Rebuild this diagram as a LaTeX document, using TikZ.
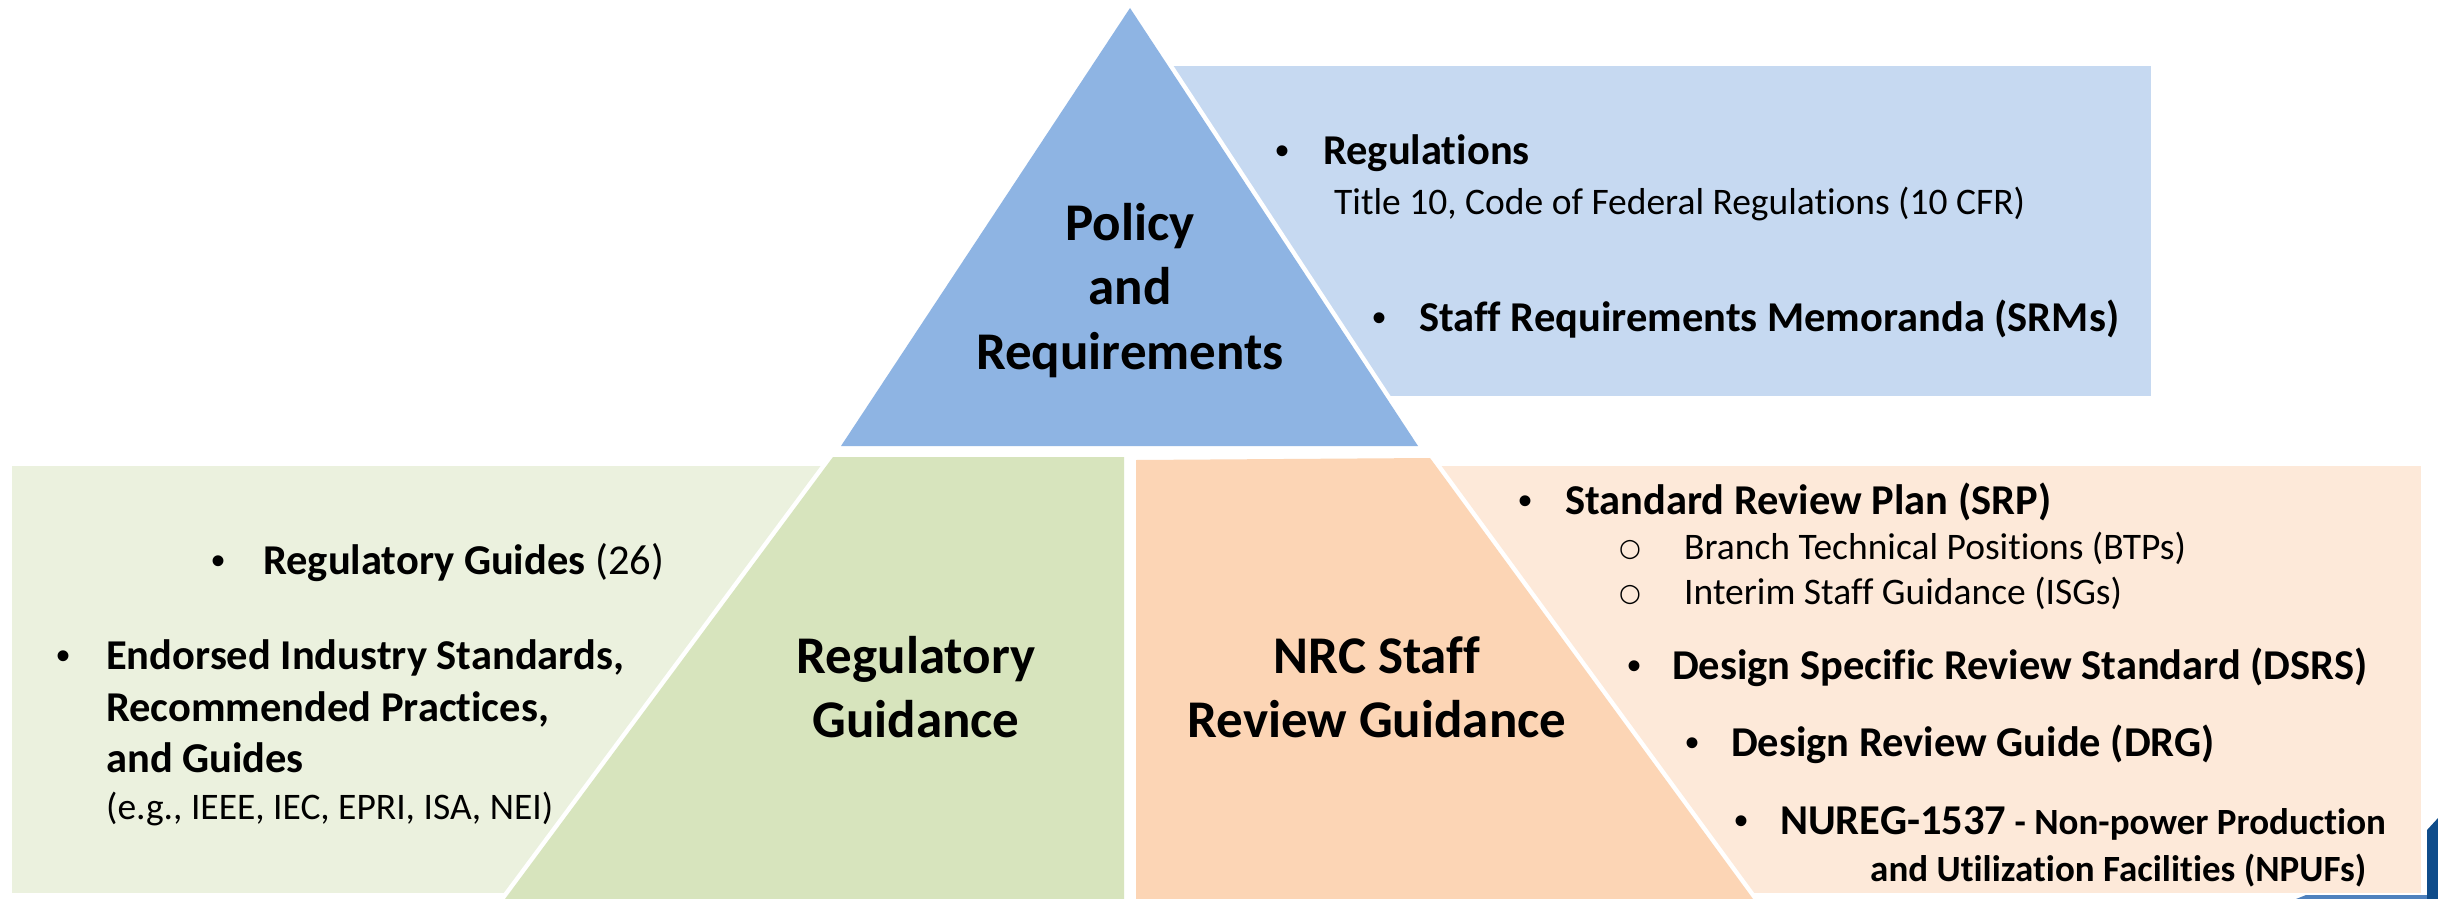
\documentclass[tikz,border=0pt]{standalone}
\usepackage{fontspec}
\setmainfont{Carlito}[Ligatures=NoCommon]
\newfontfamily\bulletfont{Liberation Sans}
\newfontfamily\subbulletfont{DejaVu Sans}
\definecolor{triblue}{HTML}{8EB4E3}
\definecolor{boxblue}{HTML}{C6D9F1}
\definecolor{boxgreen}{HTML}{EBF1DE}
\definecolor{trigreen}{HTML}{D7E4BD}
\definecolor{triorange}{HTML}{FCD5B5}
\definecolor{boxorange}{HTML}{FDE9D9}
\definecolor{navy}{HTML}{0F4C8A}
\definecolor{edgeblue}{HTML}{4F81BD}
\tikzset{
  title/.style={font=\fontsize{53}{64}\selectfont\bfseries, anchor=base, inner sep=0pt},
  item/.style={font=\fontsize{42.5}{52}\selectfont\bfseries, anchor=base west, inner sep=0pt},
  subitem/.style={font=\fontsize{37.5}{45}\selectfont, anchor=base west, inner sep=0pt},
  smallbold/.style={font=\fontsize{37}{45}\selectfont\bfseries, anchor=base west, inner sep=0pt},
  bul/.style={font=\fontsize{40}{48}\selectfont\bulletfont, anchor=base west, inner sep=0pt},
  subbul/.style={font=\fontsize{25}{30}\selectfont\subbulletfont, anchor=base west, inner sep=0pt},
  gap/.style={preaction={draw=white, line width=9pt, line join=miter}}
}
\begin{document}
\begin{tikzpicture}[x=1pt, y=-1pt]
\useasboundingbox (0,0) rectangle (2438,899);
% boxes
\fill[boxblue] (1150,66) rectangle (2151,396);
\fill[boxgreen] (12,466) rectangle (860,893);
\fill[boxorange] (1400,466) rectangle (2421,893);
% shapes
\path[gap, fill=triblue] (1130,8) -- (1418,446) -- (841,446) -- cycle;
\path[gap, fill=trigreen] (833,457) -- (1124,457) -- (1124,899) -- (505,899) -- cycle;
\path[gap, fill=triorange] (1136,460) -- (1430,458) -- (1753,899) -- (1136,899) -- cycle;
\fill[edgeblue] (2296,899) -- (2306,895) -- (2438,895) -- (2438,899) -- cycle;
\fill[navy] (2427,899) -- (2427,830) -- (2438,818) -- (2438,899) -- cycle;
% titles
\node[title] (t1a) at (1130,240) {Policy};
\node[title] (t1b) at (1130,304) {and};
\node[title] (t1c) at (1130,369) {Requirements};
\node[title] (t2a) at (916,673) {Regulatory};
\node[title] (t2b) at (916,737) {Guidance};
\node[title] (t3a) at (1377,673) {NRC Staff};
\node[title] (t3b) at (1377,737) {Review Guidance};
% blue box
\node[bul] (b1) at (1275,164) {•};
\node[item] (i1) at (1323,164) {Regulations};
\node[subitem] (i1s) at (1334,214) {Title 10, Code of Federal Regulations (10 CFR)};
\node[bul] (b2) at (1372,331) {•};
\node[item] (i2) at (1419,331) {Staff Requirements Memoranda (SRMs)};
% green box
\node[bul] (b3) at (211,574) {•};
\node[item] (i3) at (263,574) {Regulatory Guides \mdseries(26)};
\node[bul] (b4) at (56,669) {•};
\node[item] (i4a) at (106,669) {Endorsed Industry Standards,};
\node[item] (i4b) at (106,721) {Recommended Practices,};
\node[item] (i4c) at (106,772) {and Guides};
\node[subitem] (i4d) at (106,819) {(e.g., IEEE, IEC, EPRI, ISA, NEI)};
% orange box
\node[bul] (b5) at (1518,514) {•};
\node[item] (i5) at (1565,514) {Standard Review Plan (SRP)};
\node[subbul] (s1) at (1619,556) {○};
\node[subitem] (i5a) at (1684,559) {Branch Technical Positions (BTPs)};
\node[subbul] (s2) at (1619,601) {○};
\node[subitem] (i5b) at (1684,604) {Interim Staff Guidance (ISGs)};
\node[bul] (b6) at (1627,679) {•};
\node[item] (i6) at (1672,679) {Design Specific Review Standard (DSRS)};
\node[bul] (b7) at (1685,756) {•};
\node[item] (i7) at (1731,756) {Design Review Guide (DRG)};
\node[bul] (b8) at (1734,834) {•};
\node[item] (i8) at (1780,834) {NUREG-1537\fontsize{37}{45}\selectfont{} - Non-power Production};
\node[smallbold] (i8b) at (1870,881) {and Utilization Facilities (NPUFs)};
\end{tikzpicture}
\end{document}
